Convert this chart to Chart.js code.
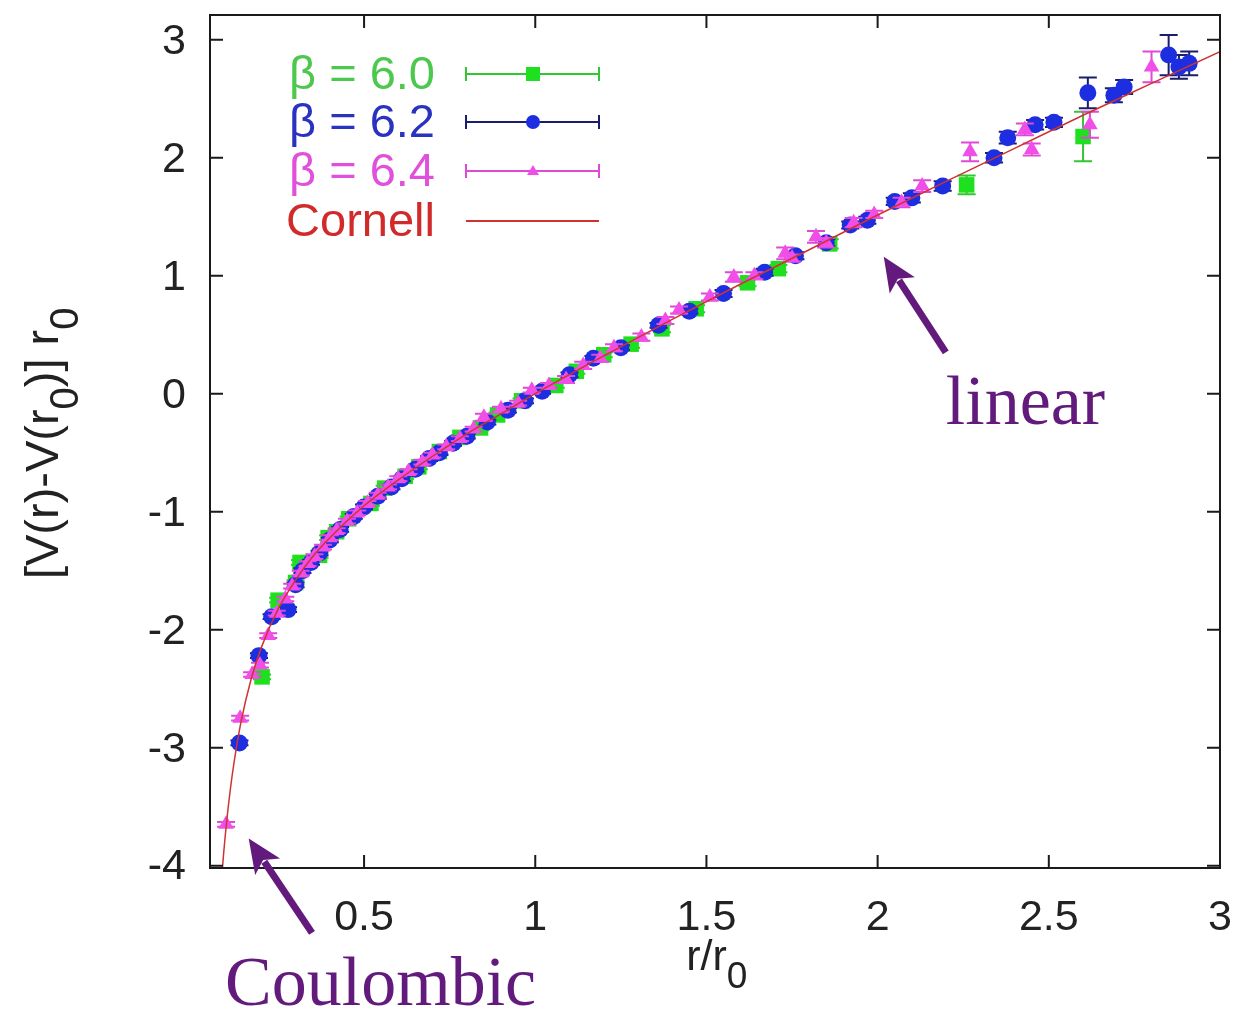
<!DOCTYPE html>
<html>
<head>
<meta charset="utf-8">
<script src="https://cdn.jsdelivr.net/npm/chart.js@4.4.1/dist/chart.umd.min.js"></script>
<style>
html,body{margin:0;padding:0;background:#fff;}
#c{display:block;}
</style>
</head>
<body>
<canvas id="c" width="1233" height="1013"></canvas>
<script>
// ---------- data ----------
const seriesNames = ['β = 6.0', 'β = 6.2', 'β = 6.4', 'Cornell'];

const b60X = [0.202, 0.249, 0.300, 0.313, 0.370, 0.395, 0.420, 0.455, 0.52, 0.56, 0.62, 0.66, 0.72, 0.78, 0.84, 0.89, 0.96, 1.06, 1.12, 1.20, 1.28, 1.37, 1.47, 1.62, 1.71, 1.86, 2.26, 2.60];
const b60Y = [-2.40, -1.75, -1.60, -1.43, -1.37, -1.22, -1.17, -1.06, -0.93, -0.80, -0.70, -0.62, -0.49, -0.37, -0.29, -0.18, -0.06, 0.07, 0.19, 0.33, 0.42, 0.55, 0.72, 0.94, 1.06, 1.27, 1.77, 2.18];
const b60E = [0.02, 0.02, 0.02, 0.02, 0.02, 0.02, 0.02, 0.02, 0.02, 0.02, 0.02, 0.02, 0.02, 0.02, 0.02, 0.02, 0.02, 0.02, 0.02, 0.02, 0.03, 0.03, 0.03, 0.03, 0.03, 0.04, 0.08, 0.21];

const b62X = [0.136, 0.193, 0.23, 0.278, 0.30, 0.32, 0.345, 0.37, 0.40, 0.43, 0.47, 0.50, 0.54, 0.58, 0.61, 0.65, 0.69, 0.72, 0.76, 0.80, 0.86, 0.92, 0.97, 1.02, 1.10, 1.17, 1.25, 1.36, 1.45, 1.55, 1.67, 1.76, 1.85, 1.92, 1.97, 2.05, 2.10, 2.19, 2.34, 2.38, 2.46, 2.515, 2.614, 2.69, 2.72, 2.85, 2.88, 2.91];
const b62Y = [-2.96, -2.22, -1.89, -1.83, -1.62, -1.50, -1.43, -1.35, -1.24, -1.15, -1.04, -0.96, -0.87, -0.79, -0.72, -0.64, -0.55, -0.50, -0.42, -0.36, -0.24, -0.14, -0.06, 0.02, 0.16, 0.30, 0.39, 0.58, 0.70, 0.85, 1.03, 1.17, 1.28, 1.43, 1.47, 1.63, 1.66, 1.76, 2.00, 2.17, 2.28, 2.30, 2.55, 2.53, 2.60, 2.87, 2.77, 2.80];
const b62E = [0.02, 0.02, 0.02, 0.02, 0.02, 0.02, 0.02, 0.02, 0.02, 0.02, 0.02, 0.02, 0.02, 0.02, 0.02, 0.02, 0.02, 0.02, 0.02, 0.02, 0.02, 0.02, 0.02, 0.02, 0.02, 0.02, 0.02, 0.02, 0.02, 0.03, 0.03, 0.03, 0.03, 0.03, 0.03, 0.03, 0.04, 0.04, 0.04, 0.05, 0.04, 0.04, 0.13, 0.06, 0.06, 0.17, 0.10, 0.10];

const b64X = [0.097, 0.138, 0.173, 0.196, 0.22, 0.245, 0.27, 0.29, 0.315, 0.335, 0.355, 0.38, 0.40, 0.42, 0.45, 0.48, 0.51, 0.54, 0.57, 0.60, 0.63, 0.67, 0.70, 0.74, 0.78, 0.82, 0.85, 0.90, 0.95, 0.99, 1.04, 1.09, 1.14, 1.19, 1.23, 1.31, 1.38, 1.42, 1.51, 1.58, 1.64, 1.73, 1.75, 1.82, 1.85, 1.93, 1.99, 2.07, 2.13, 2.27, 2.43, 2.45, 2.62, 2.80];
const b64Y = [-3.65, -2.75, -2.38, -2.30, -2.05, -1.86, -1.74, -1.63, -1.52, -1.44, -1.38, -1.30, -1.22, -1.16, -1.08, -1.01, -0.93, -0.86, -0.79, -0.72, -0.66, -0.58, -0.52, -0.45, -0.38, -0.30, -0.20, -0.13, -0.08, 0.03, 0.07, 0.12, 0.24, 0.30, 0.39, 0.48, 0.62, 0.71, 0.82, 0.99, 1.00, 1.19, 1.15, 1.33, 1.28, 1.45, 1.52, 1.62, 1.76, 2.05, 2.24, 2.07, 2.28, 2.77];
const b64E = [0.02, 0.02, 0.02, 0.02, 0.02, 0.02, 0.02, 0.02, 0.02, 0.02, 0.02, 0.02, 0.02, 0.02, 0.02, 0.02, 0.02, 0.02, 0.02, 0.02, 0.02, 0.02, 0.02, 0.02, 0.02, 0.02, 0.03, 0.02, 0.02, 0.02, 0.02, 0.03, 0.03, 0.03, 0.03, 0.03, 0.03, 0.03, 0.03, 0.04, 0.03, 0.05, 0.03, 0.05, 0.04, 0.04, 0.03, 0.04, 0.05, 0.08, 0.05, 0.05, 0.11, 0.13];

const cornellX = [0.085, 0.09, 0.10, 0.11, 0.12, 0.14, 0.17, 0.20, 0.25, 0.30, 0.35, 0.40, 0.50, 0.60, 0.70, 0.80, 0.90, 1.00, 1.20, 1.40, 1.60, 1.80, 2.00, 2.20, 2.40, 2.60, 2.80, 3.00];
const cornellY = [-4.07, -3.89, -3.59, -3.34, -3.13, -2.79, -2.42, -2.15, -1.82, -1.58, -1.38, -1.22, -0.95, -0.73, -0.53, -0.34, -0.17, 0.00, 0.32, 0.63, 0.93, 1.22, 1.515, 1.80, 2.08, 2.36, 2.63, 2.90];

const xTickVals = [0.5, 1, 1.5, 2, 2.5, 3];
const xTickLabels = ['0.5', '1', '1.5', '2', '2.5', '3'];
const yTickVals = [-4, -3, -2, -1, 0, 1, 2, 3];
const yTickLabels = ['-4', '-3', '-2', '-1', '0', '1', '2', '3'];

// ---------- styling ----------
const C_GREEN = '#1fe01f', C_GREEN_BAR = '#33c633', C_GREEN_TXT = '#4cc84c';
const C_BLUE = '#1c2ee0', C_BLUE_BAR = '#1a1c6c', C_BLUE_TXT = '#2a32c0';
const C_PINK = '#f04ee6', C_PINK_BAR = '#e048d8', C_PINK_TXT = '#e050da';
const C_RED = '#d03232', C_RED_TXT = '#d02a2a';
const C_ANN = '#621a7c';
const SANS = '"Liberation Sans", Arial, sans-serif';
const SERIF = '"Liberation Serif", "Times New Roman", serif';

function pts(xs, ys) { return xs.map((x, i) => ({x: x, y: ys[i]})); }

const errPlugin = {
  id: 'errbars',
  beforeDatasetDraw(chart, args) {
    const ds = chart.data.datasets[args.index];
    if (!ds.errors) return;
    const ys = chart.scales.y, ctx = chart.ctx;
    const ca = chart.chartArea;
    ctx.save();
    ctx.beginPath(); ctx.rect(ca.left, ca.top, ca.right - ca.left, ca.bottom - ca.top); ctx.clip();
    ctx.strokeStyle = ds.barColor; ctx.lineWidth = 2;
    args.meta.data.forEach((el, i) => {
      const v = ds.data[i].y, e = ds.errors[i];
      const y1 = ys.getPixelForValue(v - e), y2 = ys.getPixelForValue(v + e);
      const x = el.x, cw = 9;
      ctx.beginPath();
      ctx.moveTo(x, y1); ctx.lineTo(x, y2);
      ctx.moveTo(x - cw, y1); ctx.lineTo(x + cw, y1);
      ctx.moveTo(x - cw, y2); ctx.lineTo(x + cw, y2);
      ctx.stroke();
    });
    ctx.restore();
  }
};

function drawSubText(ctx, parts, x, y, size, align) {
  const main = size + 'px ' + SANS, sub = Math.round(size * 0.85) + 'px ' + SANS;
  let total = 0;
  parts.forEach(p => { ctx.font = p[1] ? sub : main; total += ctx.measureText(p[0]).width; });
  let cx = align === 'center' ? x - total / 2 : x;
  ctx.textAlign = 'left'; ctx.textBaseline = 'alphabetic';
  parts.forEach(p => {
    ctx.font = p[1] ? sub : main;
    ctx.fillText(p[0], cx, y + (p[1] ? size * 0.42 : 0));
    cx += ctx.measureText(p[0]).width;
  });
}

function arrow(ctx, x1, y1, x2, y2) {
  const ang = Math.atan2(y2 - y1, x2 - x1);
  const hl = 34, hw = 15;
  const bx = x2 - hl * Math.cos(ang), by = y2 - hl * Math.sin(ang);
  ctx.save();
  ctx.strokeStyle = C_ANN; ctx.fillStyle = C_ANN; ctx.lineWidth = 7; ctx.lineCap = 'butt';
  ctx.beginPath(); ctx.moveTo(x1, y1); ctx.lineTo(bx + 6 * Math.cos(ang), by + 6 * Math.sin(ang)); ctx.stroke();
  ctx.beginPath();
  ctx.moveTo(x2, y2);
  ctx.lineTo(bx + hw * Math.sin(ang), by - hw * Math.cos(ang));
  ctx.lineTo(bx + 8 * Math.cos(ang), by + 8 * Math.sin(ang));
  ctx.lineTo(bx - hw * Math.sin(ang), by + hw * Math.cos(ang));
  ctx.closePath(); ctx.fill();
  ctx.restore();
}

const decoPlugin = {
  id: 'deco',
  afterDraw(chart) {
    const ctx = chart.ctx, ca = chart.chartArea, xs = chart.scales.x, ys = chart.scales.y;
    ctx.save();
    // border
    ctx.strokeStyle = '#1a1a1a'; ctx.lineWidth = 2;
    ctx.strokeRect(ca.left, ca.top, ca.right - ca.left, ca.bottom - ca.top);
    // inward ticks on all sides
    ctx.lineWidth = 2; ctx.beginPath();
    const tl = 13;
    xTickVals.forEach(v => {
      const p = xs.getPixelForValue(v);
      ctx.moveTo(p, ca.bottom); ctx.lineTo(p, ca.bottom - tl);
      ctx.moveTo(p, ca.top); ctx.lineTo(p, ca.top + tl);
    });
    yTickVals.forEach(v => {
      const p = ys.getPixelForValue(v);
      ctx.moveTo(ca.left, p); ctx.lineTo(ca.left + tl, p);
      ctx.moveTo(ca.right, p); ctx.lineTo(ca.right - tl, p);
    });
    ctx.stroke();

    // tick labels
    ctx.fillStyle = '#222';
    ctx.font = '43px ' + SANS;
    ctx.textAlign = 'center'; ctx.textBaseline = 'top';
    xTickVals.forEach((v, i) => ctx.fillText(xTickLabels[i], xs.getPixelForValue(v), ca.bottom + 29));
    ctx.textAlign = 'right'; ctx.textBaseline = 'middle';
    yTickVals.forEach((v, i) => ctx.fillText(yTickLabels[i], ca.left - 24, ys.getPixelForValue(v) + 2));

    // axis titles
    drawSubText(ctx, [['r/r', false], ['0', true]], xs.getPixelForValue(1.53), ca.bottom + 102, 43, 'center');
    ctx.save();
    ctx.translate(ca.left - 152, ys.getPixelForValue(-0.42));
    ctx.rotate(-Math.PI / 2);
    drawSubText(ctx, [['[V(r)-V(r', false], ['0', true], [')] r', false], ['0', true]], 0, 0, 47, 'center');
    ctx.restore();

    // legend (key)
    const rows = [
      {t: seriesNames[0], c: C_GREEN_TXT, line: C_GREEN_BAR, sym: 'rect', sc: C_GREEN, err: true},
      {t: seriesNames[1], c: C_BLUE_TXT, line: C_BLUE_BAR, sym: 'circle', sc: C_BLUE, err: true},
      {t: seriesNames[2], c: C_PINK_TXT, line: C_PINK_BAR, sym: 'triangle', sc: C_PINK, err: true},
      {t: seriesNames[3], c: C_RED_TXT, line: C_RED, sym: null, err: false}
    ];
    const tx = ca.left + 225, lx1 = ca.left + 256, lx2 = ca.left + 389, sx = ca.left + 323;
    const ry = [ca.top + 59, ca.top + 107, ca.top + 156, ca.top + 206];
    rows.forEach((r, i) => {
      const y = ry[i];
      ctx.font = '47px ' + SANS; ctx.fillStyle = r.c; ctx.textAlign = 'right'; ctx.textBaseline = 'middle';
      ctx.fillText(r.t, tx, y + 2);
      ctx.strokeStyle = r.line; ctx.lineWidth = 2;
      ctx.beginPath(); ctx.moveTo(lx1, y); ctx.lineTo(lx2, y);
      if (r.err) { ctx.moveTo(lx1, y - 7); ctx.lineTo(lx1, y + 7); ctx.moveTo(lx2, y - 7); ctx.lineTo(lx2, y + 7); }
      ctx.stroke();
      ctx.fillStyle = r.sc;
      if (r.sym === 'rect') ctx.fillRect(sx - 7, y - 7, 14, 14);
      else if (r.sym === 'circle') { ctx.beginPath(); ctx.arc(sx, y, 7, 0, Math.PI * 2); ctx.fill(); }
      else if (r.sym === 'triangle') { ctx.beginPath(); ctx.moveTo(sx, y - 6); ctx.lineTo(sx + 6, y + 4); ctx.lineTo(sx - 6, y + 4); ctx.closePath(); ctx.fill(); }
    });

    // annotations
    arrow(ctx, xs.getPixelForValue(2.199), ys.getPixelForValue(0.35), xs.getPixelForValue(2.018), ys.getPixelForValue(1.16));
    arrow(ctx, xs.getPixelForValue(0.348), ys.getPixelForValue(-4.57), xs.getPixelForValue(0.163), ys.getPixelForValue(-3.77));
    ctx.fillStyle = C_ANN; ctx.textAlign = 'left'; ctx.textBaseline = 'alphabetic';
    ctx.font = '70px ' + SERIF;
    ctx.fillText('linear', xs.getPixelForValue(2.199), ys.getPixelForValue(-0.26));
    ctx.fillText('Coulombic', xs.getPixelForValue(0.094), ys.getPixelForValue(-5.18));
    ctx.restore();
  }
};

new Chart(document.getElementById('c'), {
  type: 'scatter',
  data: {
    datasets: [
      {label: seriesNames[0], data: pts(b60X, b60Y), errors: b60E, barColor: C_GREEN_BAR,
       pointStyle: 'rect', pointRadius: 11, backgroundColor: C_GREEN, borderColor: C_GREEN, borderWidth: 0, order: 3},
      {label: seriesNames[1], data: pts(b62X, b62Y), errors: b62E, barColor: C_BLUE_BAR,
       pointStyle: 'circle', pointRadius: 8.5, backgroundColor: C_BLUE, borderColor: C_BLUE, borderWidth: 0, order: 2},
      {label: seriesNames[2], data: pts(b64X, b64Y), errors: b64E, barColor: C_PINK_BAR,
       pointStyle: 'triangle', pointRadius: 9, backgroundColor: C_PINK, borderColor: C_PINK, borderWidth: 0, order: 1},
      {label: seriesNames[3], data: pts(cornellX, cornellY), showLine: true, pointRadius: 0,
       borderColor: C_RED, borderWidth: 1.5, cubicInterpolationMode: 'monotone', order: 0}
    ]
  },
  options: {
    responsive: false,
    animation: false,
    events: [],
    layout: {padding: {top: 15, right: 13, left: 0, bottom: 0}},
    plugins: {legend: {display: false}, tooltip: {enabled: false}},
    scales: {
      x: {
        type: 'linear', min: 0.05, max: 3,
        grid: {display: false, drawTicks: false}, border: {display: false},
        afterBuildTicks: s => { s.ticks = xTickVals.map(v => ({value: v})); },
        afterFit: s => { s.height = 145; },
        ticks: {display: false}
      },
      y: {
        type: 'linear', min: -4.02, max: 3.21,
        grid: {display: false, drawTicks: false}, border: {display: false},
        afterBuildTicks: s => { s.ticks = yTickVals.map(v => ({value: v})); },
        afterFit: s => { s.width = 210; },
        ticks: {display: false}
      }
    }
  },
  plugins: [errPlugin, decoPlugin]
});
</script>
</body>
</html>
